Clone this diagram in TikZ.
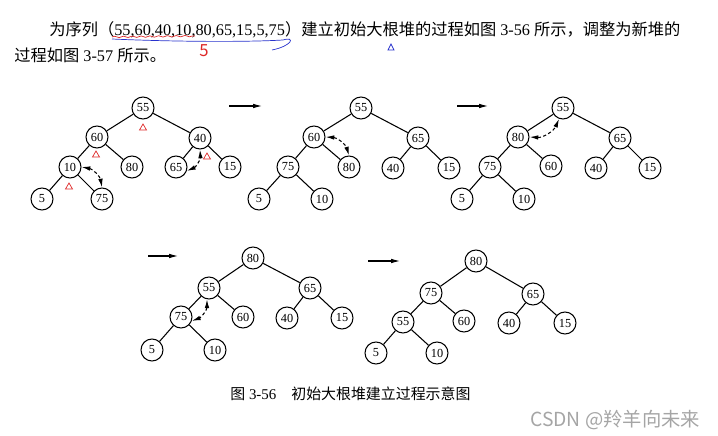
\documentclass[tikz,border=0pt]{standalone}
\usepackage{fontspec}
\setmainfont{Liberation Serif}
\newfontfamily\cjk{Noto Sans CJK SC}
\usetikzlibrary{arrows.meta,decorations.pathmorphing}
\definecolor{penred}{RGB}{222,40,40}
\definecolor{penblue}{RGB}{40,50,205}
\definecolor{wmgray}{RGB}{165,165,165}

\begin{document}
\begin{tikzpicture}[x=0.02cm,y=-0.02cm,>={Latex[length=5pt,width=2.6pt]},
  knot/.style={circle,draw,semithick,inner sep=0pt,minimum size=0.44cm,font=\fontsize{7}{8}\selectfont},
  link/.style={semithick},
  trade/.style={<->,semithick,dash pattern=on 1.8pt off 1.4pt},
  txt/.style={anchor=base west,inner sep=0pt,font=\fontsize{9.25}{11}\selectfont}]
\useasboundingbox (0,0) rectangle (718,436);
%text above the figure
\node[txt] (line1) at (49,35) {{\cjk 为序列（}55,60,40,10,80,65,15,5,75{\cjk ）建立初始大根堆的过程如图}~3-56~{\cjk 所示，调整为新堆的}};
\node[txt] (line2) at (14,61) {{\cjk 过程如图}~3-57~{\cjk 所示。}};
%pen marks
\draw[penblue,thin] (112,39) .. controls (180,42) and (250,42) .. (283,40) .. controls (296,36) and (292,46) .. (272,50);
\draw[penred,thin,decorate,decoration={snake,amplitude=0.4pt,segment length=5pt}] (112,37) -- (195,36);
\node[penred,inner sep=0pt,font=\fontsize{9.5}{9.5}\selectfont] (five) at (204,51) {\cjk 5};
\draw[penblue,thin] (388,50) -- (394,50) -- (391,44) -- cycle;
%first tree
\foreach \n/\x/\y/\v in {1/143/108/55,2/97/137/60,3/200/138/40,4/70/167/10,5/132/167/80,6/176/167/65,7/230/167/15,8/42/199/5,9/102/199/75}
{
\node[knot] (a\n) at (\x,\y) {\v};
}
%second tree
\foreach \n/\x/\y/\v in {1/361/108/55,2/314/137/60,3/418/138/65,4/288/167/75,5/349/167/80,6/393/168/40,7/449/168/15,8/259/199/5,9/322/199/10}
{
\node[knot] (b\n) at (\x,\y) {\v};
}
%third tree
\foreach \n/\x/\y/\v in {1/563/108/55,2/518/137/80,3/620/138/65,4/490/167/75,5/551/166/60,6/596/168/40,7/650/168/15,8/462/199/5,9/524/199/10}
{
\node[knot] (c\n) at (\x,\y) {\v};
}
%fourth tree
\foreach \n/\x/\y/\v in {1/253/258/80,2/209/288/55,3/310/288/65,4/181/317/75,5/243/317/60,6/287/318/40,7/342/318/15,8/152/350/5,9/215/350/10}
{
\node[knot] (d\n) at (\x,\y) {\v};
}
%fifth tree
\foreach \n/\x/\y/\v in {1/476/261/80,2/431/293/75,3/533/294/65,4/403/322/55,5/464/321/60,6/509/323/40,7/565/323/15,8/376/353/5,9/437/353/10}
{
\node[knot] (e\n) at (\x,\y) {\v};
}
%edges of all trees
\foreach \t in {a,b,c,d,e}
{
\foreach \p/\c in {1/2,1/3,2/4,2/5,3/6,3/7,4/8,4/9}
{
\draw[link] (\t\p) -- (\t\c);
}
}
%red marks under the checked nodes
\foreach \x/\y in {143/127,96/154,69/186,207/156}
{
\draw[penred,thin] (\x-3.5,\y+3) -- (\x+3.5,\y+3) -- (\x,\y-3) -- cycle;
}
%exchanges
\draw[trade] (a4.east) to[bend left=35] (a9.north);
\draw[trade] (a6.-20) to[bend right=35] (a3.south);
\draw[trade] (b2.east) to[bend left=35] (b5.north);
\draw[trade] (c2.east) to[bend right=35] (c1.-110);
\draw[trade] (d2.-100) to[bend left=35] (d4.-20);
%arrows between the steps
\coordinate (s1) at (229,106); \coordinate (t1) at (262,106);
\coordinate (s2) at (457,106); \coordinate (t2) at (488,106);
\coordinate (s3) at (148,256); \coordinate (t3) at (178,256);
\coordinate (s4) at (368,261); \coordinate (t4) at (400,261);
\foreach \i in {1,...,4}
{
\draw[->,semithick] (s\i) -- (t\i);
}
%caption
\node[txt,font=\fontsize{8.5}{10}\selectfont] (cap) at (230,399) {{\cjk 图}~3-56\quad{\cjk 初始大根堆建立过程示意图}};
\node[txt,wmgray,font=\fontsize{11}{12}\selectfont] (wm) at (530,426) {\cjk CSDN @羚羊向未来};
\end{tikzpicture}
\end{document}
